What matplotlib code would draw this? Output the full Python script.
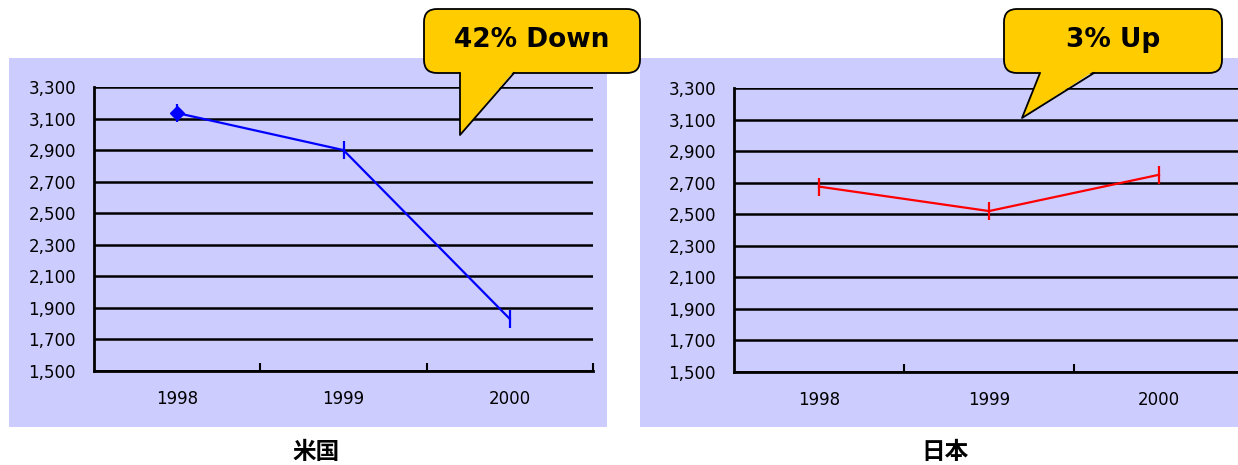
import numpy as np
import matplotlib
matplotlib.use("Agg")
import matplotlib.pyplot as plt
from matplotlib.patches import Rectangle, FancyBboxPatch, Polygon
from matplotlib.ticker import FuncFormatter, FixedLocator

W, H = 1238, 465

years = ["1998", "1999", "2000"]
us_values = [3135, 2900, 1830]
jp_values = [2675, 2520, 2750]
y_ticks = list(range(1500, 3301, 200))
titles = ["米国", "日本"]
callouts = ["42% Down", "3% Up"]

BG = "#CCCCFF"
YEL = "#FFCC00"
NUM_FONT = ["DejaVu Sans"]
CJK_FONT = ["Noto Sans CJK JP", "DejaVu Sans"]

fig = plt.figure(figsize=(W / 100, H / 100), dpi=100)


def fx(x):
    return x / W


def fy(y):
    return 1 - y / H


# lavender panels
for (x0, x1) in [(9, 607), (640, 1240)]:
    fig.patches.append(Rectangle((fx(x0), fy(427)), fx(x1 - x0), 369 / H,
                                 transform=fig.transFigure, facecolor=BG,
                                 edgecolor="none", zorder=-5))


def make_panel(rect, values, color, first_diamond):
    ax = fig.add_axes(rect, zorder=2)
    ax.set_facecolor("none")
    x = np.arange(len(years))
    ax.plot(x, values, color=color, lw=1.6, marker="|", ms=13, mew=1.6,
            zorder=5, clip_on=False)
    if first_diamond:
        ax.plot(x[:1], values[:1], color=color, marker="D", ms=7, zorder=6,
                clip_on=False)
    ax.set_xlim(-0.5, len(years) - 0.5)
    ax.set_ylim(y_ticks[0], y_ticks[-1])
    ax.set_yticks(y_ticks)
    ax.yaxis.set_major_formatter(FuncFormatter(lambda v, p: f"{int(v):,}"))
    ax.tick_params(axis="y", length=0, pad=13, labelsize=12)
    ax.xaxis.set_major_locator(FixedLocator([0.5, 1.5, 2.5]))
    ax.xaxis.set_minor_locator(FixedLocator(list(x)))
    ax.xaxis.set_major_formatter(FuncFormatter(lambda v, p: ""))
    ax.set_xticklabels(years, minor=True)
    ax.tick_params(axis="x", which="major", direction="in", length=6, width=1.5)
    ax.tick_params(axis="x", which="minor", length=0, pad=14, labelsize=12)
    for lab in ax.get_yticklabels() + ax.get_xticklabels(minor=True):
        lab.set_family(NUM_FONT)
    ax.grid(axis="y", color="black", lw=1.8)
    ax.set_axisbelow(True)
    for s in ["top", "right"]:
        ax.spines[s].set_visible(False)
    for s in ["left", "bottom"]:
        ax.spines[s].set_linewidth(2)
        ax.spines[s].set_color("black")
    return ax


ax1 = make_panel([fx(94), 1 - 371 / H, 499 / W, 284 / H], us_values, "#0000FF", True)
ax2 = make_panel([fx(734), 1 - 372 / H, 510 / W, 284 / H], jp_values, "#FF0000", False)

fig.text(fx(316), fy(452), titles[0], ha="center", va="center", fontsize=17,
         fontweight="bold", family=CJK_FONT)
fig.text(fx(945), fy(452), titles[1], ha="center", va="center", fontsize=17,
         fontweight="bold", family=CJK_FONT)

# callout overlay in pixel coordinates
ov = fig.add_axes([0, 0, 1, 1], zorder=10)
ov.set_xlim(0, W)
ov.set_ylim(0, H)
ov.axis("off")


def callout(x0, x1, y0, y1, t0, t1, tip, text):
    box = FancyBboxPatch((x0, H - y1), x1 - x0, y1 - y0,
                         boxstyle="round,pad=0,rounding_size=13",
                         facecolor=YEL, edgecolor="black", lw=1.3)
    ov.add_patch(box)
    tail = Polygon([(t0, H - y1 + 2), (t1, H - y1 + 2), (tip[0], H - tip[1])],
                   closed=True, facecolor=YEL, edgecolor="none")
    ov.add_patch(tail)
    ov.plot([t0, tip[0], t1], [H - y1, H - tip[1], H - y1], color="black", lw=1.3)
    ov.text((x0 + x1) / 2, H - (y0 + y1) / 2 + 1, text, ha="center", va="center",
            fontsize=19, fontweight="bold", family=["DejaVu Sans"])


callout(424, 640, 9, 73, 460, 514, (460, 135), callouts[0])
callout(1004, 1222, 9, 73, 1040, 1094, (1022, 118), callouts[1])

fig.savefig("out.png", dpi=100)
